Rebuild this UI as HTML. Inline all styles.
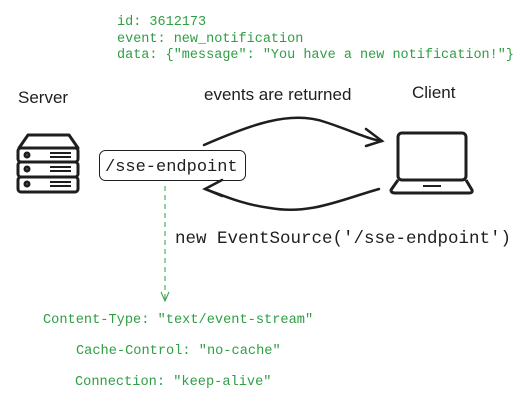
<!DOCTYPE html>
<html><head><style>
html,body{margin:0;padding:0;background:#fff;}
svg{display:block}
.m{font-family:"Liberation Mono",monospace;}
.g{fill:#2f9e44;}
.h{font-family:"Liberation Sans",sans-serif;font-size:17px;fill:#1e1e1e;}
</style></head><body>
<svg width="530" height="405" viewBox="0 0 530 405" xmlns="http://www.w3.org/2000/svg">
<g class="m g" font-size="13.5">
<text x="117" y="25">id: 3612173</text>
<text x="117" y="42">event: new_notification</text>
<text x="117" y="58">data: {"message": "You have a new notification!"}</text>
</g>
<g class="m g" font-size="13.65">
<text x="43" y="323">Content-Type: "text/event-stream"</text>
<text x="76" y="354">Cache-Control: "no-cache"</text>
<text x="75" y="385">Connection: "keep-alive"</text>
</g>
<text class="h" x="18" y="103">Server</text>
<text class="h" x="204" y="100">events are returned</text>
<text class="h" x="412" y="98">Client</text>
<!-- server -->
<g fill="none" stroke="#1e1e1e" stroke-width="3" stroke-linejoin="round">
<path d="M19 148 L28 135 L69 135 L78 148 Z"/>
<rect x="18" y="148" width="60" height="14" rx="3"/>
<rect x="18" y="162" width="60" height="15" rx="3"/>
<rect x="18" y="177" width="60" height="15" rx="3"/>
<circle cx="27" cy="155" r="2"/><circle cx="27" cy="169" r="2"/><circle cx="27" cy="184" r="2"/>
<path d="M50 153h21M50 157h21M50 167h21M50 171h21M50 182h21M50 186h21" stroke-width="2"/>
</g>
<!-- endpoint box -->
<rect x="99.5" y="150.5" width="146" height="30" rx="6" fill="none" stroke="#1e1e1e" stroke-width="1"/>
<text class="m" x="105" y="171" font-size="17" fill="#1e1e1e">/sse-endpoint</text>
<!-- arrows -->
<g fill="none" stroke="#1e1e1e" stroke-width="2.5" stroke-linecap="round">
<path d="M204 145 C250 125 290 110 325 122 C350 130 370 140 382 141"/>
<path d="M366 129 L382 141 L366 146"/>
<path d="M379 189 C340 200 310 215 270 208 C240 204 220 194 205 189"/>
<path d="M222 180 L205 189 L222 196"/>
</g>
<!-- laptop -->
<g fill="none" stroke="#1e1e1e" stroke-width="3" stroke-linejoin="round">
<rect x="398" y="133" width="68" height="47" rx="4"/>
<path d="M398 180 L391 190 Q391 193 395 193 L469 193 Q473 193 472 190 L466 180"/>
<path d="M423 186 h18" stroke-width="2"/>
</g>
<!-- dashed -->
<path d="M165 186 V300" stroke="#2f9e44" stroke-width="1" stroke-dasharray="5,4"/>
<path d="M161 292 L165 301 L169 292" fill="none" stroke="#2f9e44" stroke-width="1"/>
<text class="m" x="175" y="243" font-size="17.5" fill="#1e1e1e">new EventSource('/sse-endpoint')</text>
</svg>
</body></html>
